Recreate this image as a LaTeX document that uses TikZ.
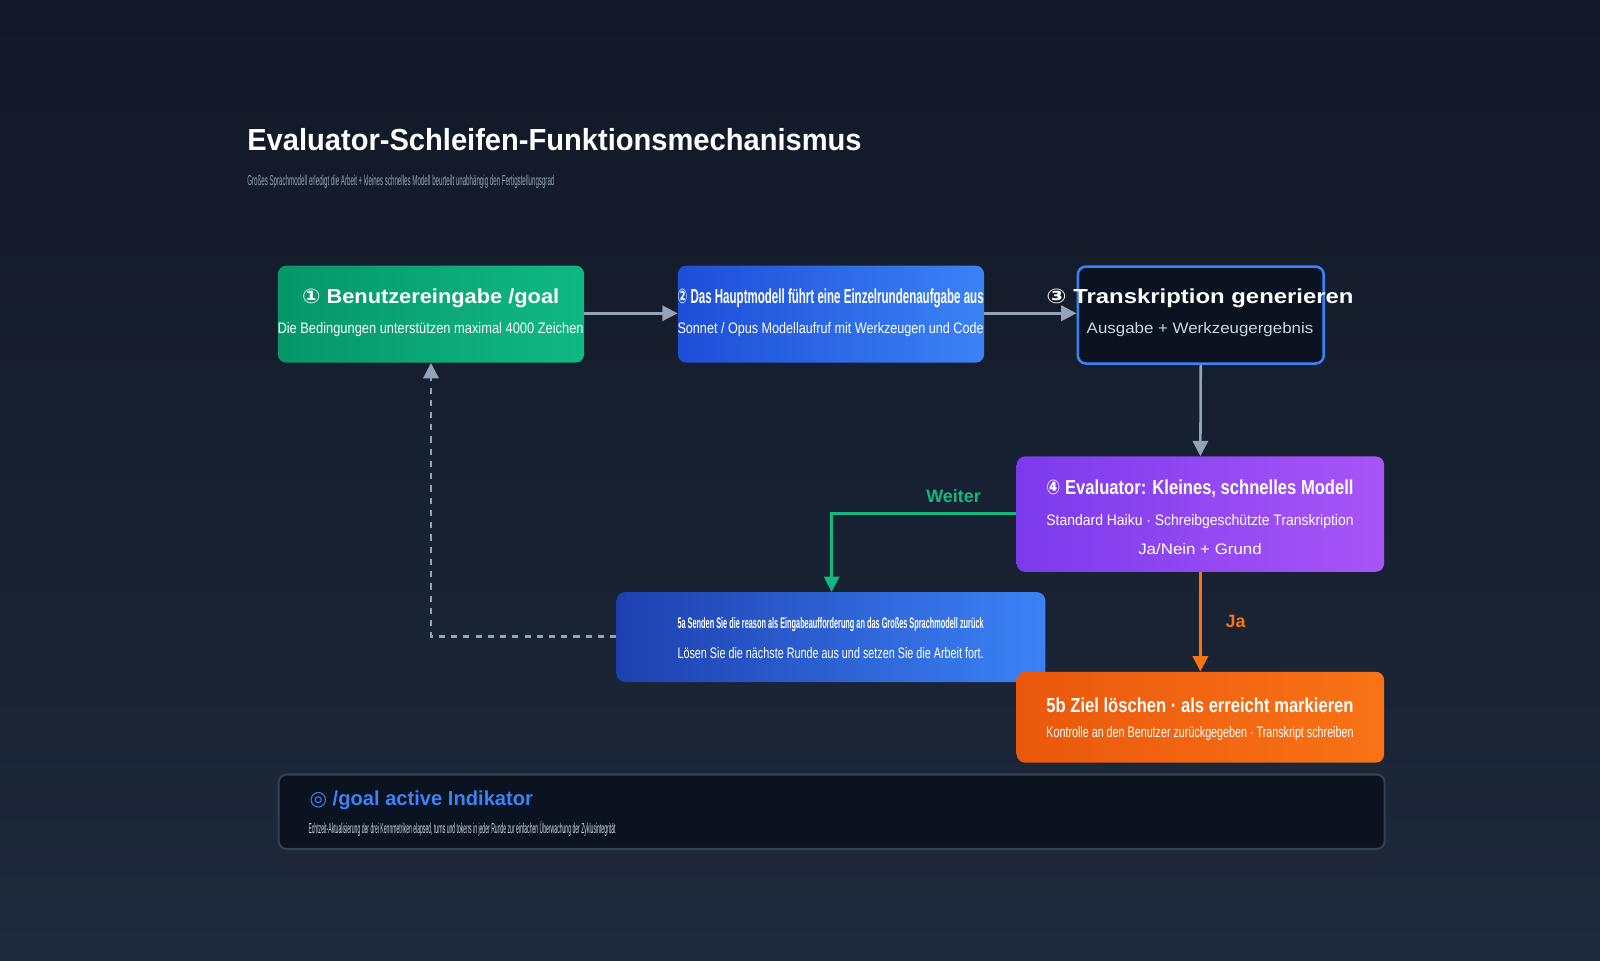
\documentclass[tikz,border=0pt]{standalone}
\usepackage{fontspec}
\setmainfont{Liberation Sans}
\newfontfamily\symfont{DejaVu Sans}
\usetikzlibrary{arrows.meta,positioning}
\newlength\pxu \setlength\pxu{0.02cm}
\newcommand\fitw[2]{\resizebox{#1\pxu}{\height}{#2}}
\definecolor{bgtop}{HTML}{111827}
\definecolor{bgbot}{HTML}{1E293B}
\definecolor{linegray}{HTML}{94A3B8}
\definecolor{darkbox}{HTML}{0B1220}
\definecolor{blueline}{HTML}{3B82F6}
\definecolor{greenA}{HTML}{059669}
\definecolor{greenB}{HTML}{10B981}
\definecolor{blueA}{HTML}{1D4ED8}
\definecolor{blueB}{HTML}{3B82F6}
\definecolor{blueC}{HTML}{1E40AF}
\definecolor{purpA}{HTML}{7C3AED}
\definecolor{purpB}{HTML}{A855F7}
\definecolor{orA}{HTML}{EA580C}
\definecolor{orB}{HTML}{F97316}
\definecolor{subgray}{HTML}{CBD5E1}
\definecolor{edgegray}{HTML}{334155}
\begin{document}
\begin{tikzpicture}[x=0.02cm,y=-0.02cm,
    box/.style={rounded corners=0.16cm,inner sep=0pt,anchor=north west},
    ttl/.style={text=white,font=\bfseries\fontsize{11.3}{13}\selectfont},
    sub/.style={text=white,font=\fontsize{8.5}{10}\selectfont},
    flow/.style={linegray,line width=0.05cm,-{Triangle[length=0.3cm,width=0.3cm]}}]
  % background
  \shade[top color=bgtop,bottom color=bgbot] (0,0) rectangle (1568,941);
  \useasboundingbox (0,0) rectangle (1568,941);

  % heading
  \node[anchor=west,inner sep=0pt,text=white,font=\bfseries\fontsize{17}{20}\selectfont] (title) at (242,137) {\fitw{602}{Evaluator-Schleifen-Funktionsmechanismus}};
  \node[anchor=west,inner sep=0pt,text=linegray,font=\fontsize{8}{9}\selectfont] (subtitle) at (242,178) {\fitw{301}{Großes Sprachmodell erledigt die Arbeit + kleines schnelles Modell beurteilt unabhängig den Fertigstellungsgrad}};

  % boxes
  \node[box,shading=axis,left color=greenA,right color=greenB,minimum width=300\pxu,minimum height=95\pxu] (b1) at (272,260) {};
  \node[box,shading=axis,left color=blueA,right color=blueB,minimum width=300\pxu,minimum height=95\pxu] (b2) at (664,260) {};
  \node[box,fill=darkbox,draw=blueline,line width=0.05cm,minimum width=241\pxu,minimum height=95\pxu] (b3) at (1055,260) {};
  \node[box,shading=axis,left color=purpA,right color=purpB,minimum width=360\pxu,minimum height=113\pxu] (b4) at (996,447) {};
  \node[box,shading=axis,left color=blueC,right color=blueB,minimum width=420\pxu,minimum height=88\pxu] (b5a) at (604,580) {};
  \node[box,shading=axis,left color=orA,right color=orB,minimum width=360\pxu,minimum height=89\pxu] (b5b) at (996,658) {};
  \node[box,fill=darkbox,draw=edgegray,line width=0.04cm,minimum width=1084\pxu,minimum height=73\pxu] (ind) at (272,758) {};

  % box texts
  \node[ttl] (t1) at (422,292) {\fitw{252}{{\symfont ①} Benutzereingabe /goal}};
  \node[sub] (s1) at (422,323) {\fitw{300}{Die Bedingungen unterstützen maximal 4000 Zeichen}};
  \node[ttl] (t2) at (814,292) {\fitw{300}{{\symfont ②} Das Hauptmodell führt eine Einzelrundenaufgabe aus}};
  \node[sub] (s2) at (814,323) {\fitw{300}{Sonnet / Opus Modellaufruf mit Werkzeugen und Code}};
  \node[ttl] (t3) at (1176,292) {\fitw{301}{{\symfont ③} Transkription generieren}};
  \node[sub,text=subgray] (s3) at (1176,323) {\fitw{222}{Ausgabe + Werkzeugergebnis}};
  \node[ttl] (t4) at (1176,479) {\fitw{301}{{\symfont ④} Evaluator: Kleines, schnelles Modell}};
  \node[sub] (s4) at (1176,511) {\fitw{301}{Standard Haiku · Schreibgeschützte Transkription}};
  \node[sub] (r4) at (1176,538) {\fitw{121}{Ja/Nein + Grund}};
  \node[sub,font=\bfseries\fontsize{8.5}{10}\selectfont] (t5a) at (814,612) {\fitw{300}{5a Senden Sie die reason als Eingabeaufforderung an das Großes Sprachmodell zurück}};
  \node[sub] (s5a) at (814,640) {\fitw{300}{Lösen Sie die nächste Runde aus und setzen Sie die Arbeit fort.}};
  \node[ttl] (t5b) at (1176,691) {\fitw{301}{5b Ziel löschen · als erreicht markieren}};
  \node[sub] (s5b) at (1176,719) {\fitw{301}{Kontrolle an den Benutzer zurückgegeben · Transkript schreiben}};
  \node[anchor=west,inner sep=0pt,text=blueline,font=\bfseries\fontsize{11.3}{13}\selectfont] (tind) at (303,784) {\fitw{219}{{\symfont ◎} /goal active Indikator}};
  \node[anchor=west,inner sep=0pt,text=subgray,font=\fontsize{8}{9}\selectfont] (sind) at (302,812) {\fitw{301}{Echtzeit-Aktualisierung der drei Kennmetriken elapsed, turns und tokens in jeder Runde zur einfachen Überwachung der Zyklusintegrität}};

  % connectors
  \draw[flow] (b1.east |- 0,307) -- (b2.west |- 0,307);
  \draw[flow] (b2.east |- 0,307) -- (b3.west |- 0,307);
  \draw[flow] (b3.south) -- (b4.north);
  \draw[flow,greenB] (b4.west |- 0,503) -| (b5a.north -| 815,0) node[pos=0.17,above=2pt,font=\bfseries\fontsize{10}{12}\selectfont] {Weiter};
  \draw[flow,orB] (b4.south) -- (b5b.north) node[midway,right=10pt,font=\bfseries\fontsize{10}{12}\selectfont] {Ja};
  \draw[flow,dash pattern=on 0.12cm off 0.12cm] (b5a.west |- 0,624) -| (b1.south);
\end{tikzpicture}
\end{document}
